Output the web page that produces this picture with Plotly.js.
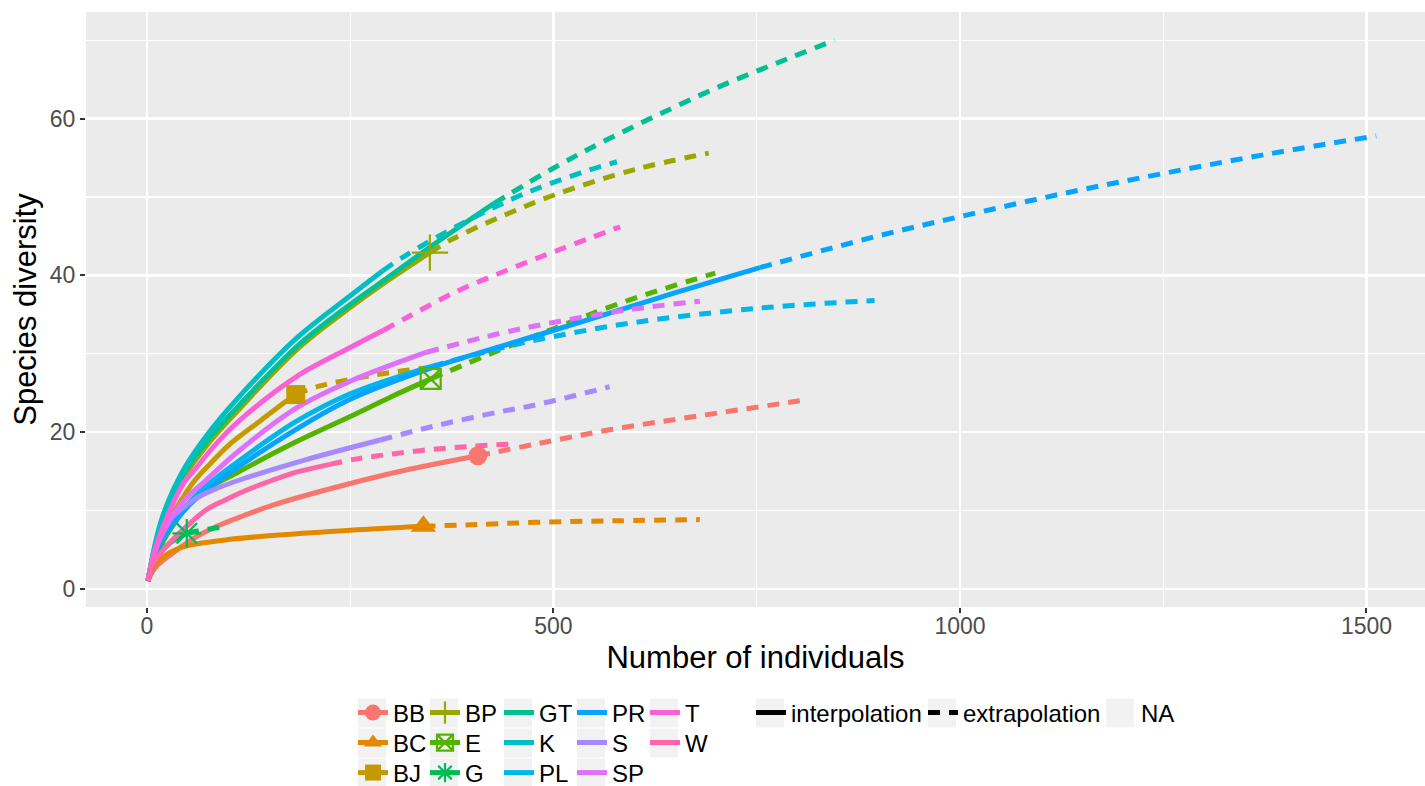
<!DOCTYPE html>
<html><head><meta charset="utf-8">
<script src="https://cdn.plot.ly/plotly-3.0.1.min.js"></script>
<style>html,body{margin:0;padding:0;background:#fff}#chart{width:1425px;height:786px}</style>
</head><body><div id="chart"></div>
<script>
// ---------------- data ----------------
const species = ['BB','BC','BJ','BP','E','G','GT','K','PL','PR','S','SP','T','W'];
const colors  = ['#F8766D','#E38900','#C49A00','#99A800','#53B400','#00BC56','#00C094','#00BFC4','#00B6EB','#06A4FF','#A58AFF','#DF70F8','#FB61D7','#FF66A8'];
const symbols = ['circle','triangle-up','square','cross-thin-open','square-x-open','asterisk-open',null,null,null,null,null,null,null,null];
const linetypeLabels = ['interpolation','extrapolation','NA'];
const xTickVals = [0, 500, 1000, 1500];
const yTickVals = [0, 20, 40, 60];

// [individuals, species] pairs
const BB_interp = [[1,1],[10,2.7],[32,4.6],[60,6.6],[86,8.0],[120,9.4],[155,10.7],[237,13.1],[320,15.2],[407,17.0]];
const BB_extrap = [[407,17.0],[479,18.5],[569,20.3],[680,22.1],[803,24.0]];
const BC_interp = [[1,1],[10,3.0],[20,4.1],[35,5.0],[53,5.6],[100,6.3],[164,6.9],[250,7.5],[340,8.0]];
const BC_extrap = [[340,8.0],[400,8.2],[479,8.5],[580,8.7],[680,8.85]];
const BJ_interp = [[1,1],[10,4.6],[20,7.3],[57,13.6],[78,16.0],[100,18.3],[140,21.5],[172,24.0],[183,24.8]];
const BJ_extrap = [[183,24.8],[213,25.9],[280,27.3],[320,27.9],[360,28.4]];
const BP_interp = [[1,1],[10,5.2],[20,8.8],[45,14.2],[75,18.5],[114,23.0],[184,30.5],[250,35.9],[300,39.6],[348,42.9]];
const BP_extrap = [[348,42.9],[375,44.6],[440,47.7],[502,50.3],[600,53.5],[691,55.6]];
const E_interp  = [[1,1],[10,4.0],[25,7.0],[61,11.8],[114,15.0],[184,18.8],[250,22.0],[300,24.5],[349,26.8]];
const E_extrap  = [[349,26.8],[434,30.5],[500,33.2],[586,36.6],[699,40.3]];
const G_interp  = [[1,1],[10,3.6],[25,5.6],[49,7.1]];
const G_extrap  = [[49,7.1],[65,7.45],[80,7.7],[90,7.85]];
const GT_interp = [[1,1],[10,5.5],[20,9.2],[45,14.7],[75,19.0],[114,23.5],[184,30.9],[250,36.3],[300,40.0],[348,43.6],[427,49.2]];
const GT_extrap = [[427,49.2],[502,53.8],[560,57.0],[625,60.3],[700,63.9],[775,67.1],[846,70.0]];
const K_interp  = [[1,1],[10,5.7],[20,9.5],[45,15.2],[75,19.8],[114,24.6],[184,32.0],[250,37.4],[290,40.6]];
const K_extrap  = [[290,40.6],[319,42.6],[380,46.2],[446,49.6],[493,51.6],[540,53.3],[578,54.5]];
const PL_interp = [[1,1],[10,4.5],[20,6.8],[50,10.8],[75,13.3],[102,15.5],[184,21.4],[250,24.9],[350,28.4]];
const PL_extrap = [[350,28.4],[434,30.7],[500,32.2],[600,34.0],[750,35.8],[895,36.8]];
const PR_interp = [[1,1],[10,4.3],[20,6.5],[50,10.5],[78,13.0],[110,15.4],[184,20.4],[250,24.2],[350,28.2],[434,30.9],[557,34.8],[650,37.8],[754,41.0]];
const PR_extrap = [[754,41.0],[898,45.0],[1000,47.5],[1125,50.4],[1250,53.0],[1380,55.5],[1512,57.8]];
const S_interp  = [[1,1],[10,5.0],[25,8.5],[40,10.0],[61,11.6],[85,12.8],[114,13.9],[196,16.5],[287,19.0]];
const S_extrap  = [[287,19.0],[350,20.7],[434,22.6],[479,23.5],[569,25.8]];
const SP_interp = [[1,1],[10,4.8],[20,7.3],[45,11.2],[73,13.9],[114,17.7],[184,23.1],[250,26.5],[344,30.2]];
const SP_extrap = [[344,30.2],[434,32.6],[500,34.0],[566,35.2],[620,36.0],[680,36.7]];
const T_interp  = [[1,1],[10,5.0],[20,8.0],[45,13.5],[57,15.0],[85,18.5],[114,21.5],[184,27.1],[250,30.8],[291,33.0]];
const T_extrap  = [[291,33.0],[319,34.6],[380,37.9],[446,40.8],[510,43.4],[582,46.2]];
const W_interp  = [[1,1],[10,3.6],[32,6.3],[50,8.1],[73,10.1],[95,11.3],[120,12.5],[155,13.9],[184,14.9],[225,15.9]];
const W_extrap  = [[225,15.9],[258,16.6],[300,17.2],[350,17.8],[400,18.2],[450,18.5]];

const interpData = [BB_interp,BC_interp,BJ_interp,BP_interp,E_interp,G_interp,GT_interp,K_interp,PL_interp,PR_interp,S_interp,SP_interp,T_interp,W_interp];
const extrapData = [BB_extrap,BC_extrap,BJ_extrap,BP_extrap,E_extrap,G_extrap,GT_extrap,K_extrap,PL_extrap,PR_extrap,S_extrap,SP_extrap,T_extrap,W_extrap];

// ---------------- styling ----------------
const FONT = 'Liberation Sans, Arial, sans-serif';
const W = 1425, H = 786;
const M = {l:86, r:0, t:12, b:179, autoexpand:false};
const pw = W - M.l - M.r, ph = H - M.t - M.b;
const xp = px => (px - M.l) / pw;
const yp = py => (H - M.b - py) / ph;
const DASH = '12px,9px';
const LW = 5;
const SMOOTH = 1.0;
const markerSize = {'circle':19,'triangle-up':22,'square':19,'cross-thin-open':26,'square-x-open':20,'asterisk-open':24};

// legend key layout (pixel positions of the grey key boxes)
const keyCols = [358, 430, 504, 577, 650];
const keyRows = [713, 743, 773];
const ltKeyCols = [756, 928, 1106];

function markerFor(i, legendSize){
  const s = symbols[i];
  const open = s.indexOf('open') >= 0;
  return {symbol:s, size: legendSize ? Math.min(16, markerSize[s]) : markerSize[s], color: colors[i],
          line:{color: colors[i], width: open ? 2.2 : 0}};
}

const traces = [];
species.forEach((s, i) => {
  const I = interpData[i], E = extrapData[i];
  traces.push({type:'scatter', mode:'lines', x:I.map(p=>p[0]), y:I.map(p=>p[1]),
    line:{color:colors[i], width:LW, shape:'spline', smoothing:SMOOTH}, showlegend:false, hoverinfo:'skip'});
  traces.push({type:'scatter', mode:'lines', x:E.map(p=>p[0]), y:E.map(p=>p[1]),
    line:{color:colors[i], width:LW, dash:DASH, shape:'spline', smoothing:SMOOTH}, showlegend:false, hoverinfo:'skip'});
});
species.forEach((s, i) => {
  if (!symbols[i]) return;
  const I = interpData[i]; const last = I[I.length-1];
  traces.push({type:'scatter', mode:'markers', x:[last[0]], y:[last[1]], marker:markerFor(i,false),
    showlegend:false, hoverinfo:'skip'});
});

function legendAt(pxLeft, pyCenter){
  return {x:xp(pxLeft), y:yp(pyCenter), xanchor:'left', yanchor:'middle', orientation:'v',
    bgcolor:'rgba(0,0,0,0)', borderwidth:0, font:{family:FONT, size:24, color:'#000000'},
    itemwidth:30, tracegroupgap:0, itemclick:false, itemdoubleclick:false};
}

const layoutLegends = {};
let legendCount = 0;
function nextLegend(pxLeft, pyCenter){
  legendCount++;
  const key = legendCount === 1 ? 'legend' : 'legend' + legendCount;
  layoutLegends[key] = legendAt(pxLeft, pyCenter);
  return key;
}

const shapes = [];
function keyBox(cx, cy){
  shapes.push({type:'rect', xref:'paper', yref:'paper', layer:'below',
    x0:xp(cx), x1:xp(cx+28), y0:yp(cy+14.5), y1:yp(cy-14.5),
    fillcolor:'#F2F2F2', line:{width:0}});
}

// species legend: column-major, 3 rows
species.forEach((s, i) => {
  const col = Math.floor(i / 3), row = i % 3;
  const cx = keyCols[col], cy = keyRows[row];
  keyBox(cx, cy);
  const lg = nextLegend(cx - 5, cy);
  const t = {type:'scatter', x:[null], y:[null], name:s, legend:lg, showlegend:true,
    mode: symbols[i] ? 'lines+markers' : 'lines', line:{color:colors[i], width:LW}};
  if (symbols[i]) t.marker = markerFor(i, true);
  traces.push(t);
});
// linetype legend
linetypeLabels.forEach((lab, j) => {
  const cx = ltKeyCols[j], cy = keyRows[0];
  keyBox(cx, cy);
  const lg = nextLegend(cx - 5, cy);
  traces.push({type:'scatter', x:[null], y:[null], name:lab, legend:lg, showlegend:true, mode:'lines',
    line:{color: j===2 ? 'rgba(0,0,0,0)' : '#000000', width:LW, dash: j===1 ? DASH : 'solid'}});
});

const layout = Object.assign({
  width:W, height:H, margin:M, paper_bgcolor:'#FFFFFF', plot_bgcolor:'#EBEBEB',
  font:{family:FONT, color:'#000000'},
  showlegend:true,
  xaxis:{range:[-75, 1572], tickvals:xTickVals, ticktext:xTickVals.map(String),
    showgrid:true, gridcolor:'#FFFFFF', gridwidth:2.4, zeroline:false, showline:false,
    minor:{dtick:250, tick0:0, showgrid:true, gridcolor:'#FFFFFF', gridwidth:1.2, ticks:''},
    ticks:'outside', ticklen:5, tickwidth:2, tickcolor:'#333333', ticklabelstandoff:-7,
    tickfont:{family:FONT, size:23, color:'#4D4D4D'},
    title:{text:'Number of individuals', font:{family:FONT, size:31, color:'#000000'}, standoff:8},
    automargin:false, fixedrange:true},
  yaxis:{range:[-2.3, 73.6], tickvals:yTickVals, ticktext:yTickVals.map(String),
    showgrid:true, gridcolor:'#FFFFFF', gridwidth:2.4, zeroline:false, showline:false,
    minor:{dtick:10, tick0:0, showgrid:true, gridcolor:'#FFFFFF', gridwidth:1.2, ticks:''},
    ticks:'outside', ticklen:5, tickwidth:2, tickcolor:'#333333',
    tickfont:{family:FONT, size:23, color:'#4D4D4D'},
    title:{text:'Species diversity', font:{family:FONT, size:31, color:'#000000'}, standoff:3},
    automargin:false, fixedrange:true},
  shapes: shapes
}, layoutLegends);

Plotly.newPlot('chart', traces, layout, {displayModeBar:false, staticPlot:true});
</script>
</body></html>
